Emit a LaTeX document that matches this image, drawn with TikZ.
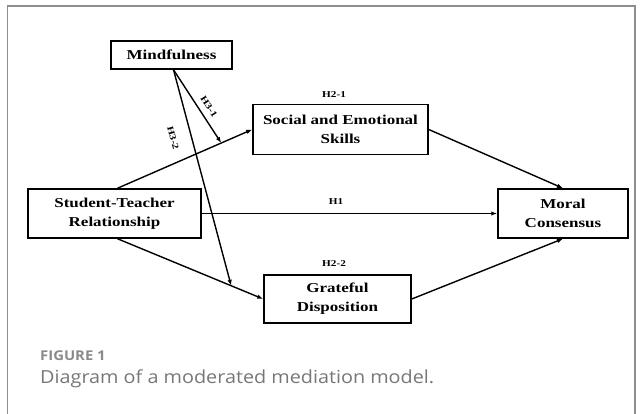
\documentclass[tikz,border=0pt]{standalone}
\usepackage{fontspec}
\usetikzlibrary{arrows.meta}
\newfontfamily\tnr[FakeStretch=1.25]{Liberation Serif}
\newfontfamily\capfont[FakeStretch=1.1]{Open Sans}
\definecolor{framegray}{HTML}{8E8E8E}
\definecolor{capgray}{HTML}{8A8A8A}
\definecolor{textgray}{HTML}{777777}
\tikzset{
  box/.style={draw, line width=1.5pt, align=center, inner sep=0pt,
    font=\tnr\bfseries\fontsize{13.6}{19}\selectfont},
  hlabel/.style={font=\tnr\bfseries\fontsize{9}{10}\selectfont, inner sep=0pt},
  conn/.style={line width=1.4pt, -{Latex[length=6pt,width=4.5pt]}}
}
\begin{document}
\begin{tikzpicture}[x=1pt,y=-1pt]
\useasboundingbox (0,0) rectangle (641,414);
% frame
\draw[framegray, line width=1.5pt] (7.5,420) -- (7.5,6) -- (635,6) -- (635,420);
% boxes
\node[box, minimum width=121pt, minimum height=28pt] (mind) at (171.5,55) {Mindfulness};
\node[box, minimum width=175pt, minimum height=50pt] (soc) at (340.5,129.5) {Social and Emotional\\Skills};
\node[box, minimum width=173pt, minimum height=49pt] (str) at (114.5,213.5) {Student-Teacher\\Relationship};
\node[box, minimum width=130pt, minimum height=49pt] (mor) at (563,213.5) {Moral\\Consensus};
\node[box, minimum width=147pt, minimum height=48pt] (gra) at (337.5,299) {Grateful\\Disposition};
% paths
\draw[conn] ([xshift=3pt]str.north) -- (soc.west) coordinate[pos=0.77] (m1);
\draw[conn] (soc.east) -- (mor.north);
\draw[conn] (str.east) -- (mor.west);
\draw[conn] ([xshift=3pt]str.south) -- (gra.west) coordinate[pos=0.78] (m2);
\draw[conn] (gra.east) -- (mor.south);
\draw[conn] ([xshift=2pt]mind.south) -- (m1);
\draw[conn] ([xshift=2pt]mind.south) -- (m2);
% labels
\node[hlabel] (h21) at (334,95) {H2-1};
\node[hlabel] (h1) at (336,202) {H1};
\node[hlabel] (h22) at (334,264) {H2-2};
\node[hlabel, rotate=-57] (h31) at (209,107) {H3-1};
\node[hlabel, rotate=-75] (h32) at (173,138) {H3-2};
% caption
\node[anchor=base west, inner sep=0pt, text=capgray, font=\capfont\bfseries\fontsize{13.5}{16}\selectfont] (fig) at (40,361) {FIGURE 1};
\node[anchor=base west, inner sep=0pt, text=textgray, font=\capfont\fontsize{18}{20}\selectfont] (cap) at (40,384) {Diagram of a moderated mediation model.};
\end{tikzpicture}
\end{document}
